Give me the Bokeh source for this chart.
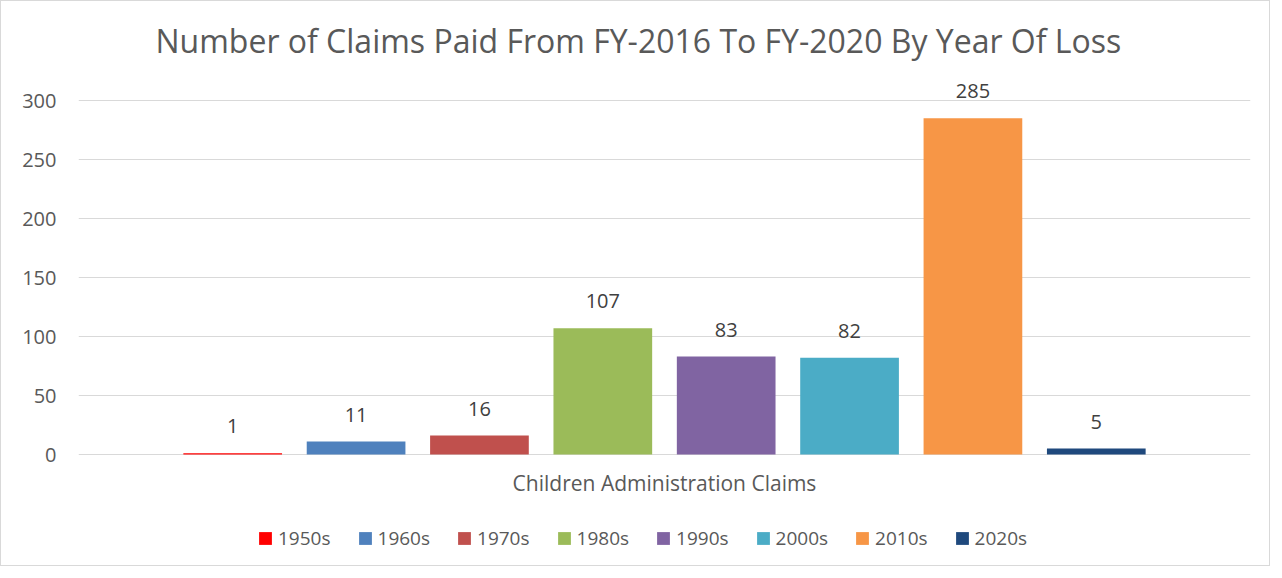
from bokeh.plotting import figure
from bokeh.models import (ColumnDataSource, Range1d, FixedTicker, Legend, LegendItem,
                          LabelSet, Label, Title)
from bokeh.core.properties import value
from bokeh.embed import file_html
from bokeh.resources import INLINE

decades = ["1950s", "1960s", "1970s", "1980s", "1990s", "2000s", "2010s", "2020s"]
claims = [1, 11, 16, 107, 83, 82, 285, 5]
colors = ["#ff0000", "#4f81bd", "#c0504d", "#9bbb59", "#8064a2", "#4bacc6", "#f79646", "#1f497d"]
category = "Children Administration Claims"
title_text = "Number of Claims Paid From FY-2016 To FY-2020 By Year Of Loss"
y_ticks = [0, 50, 100, 150, 200, 250, 300]

FONT = "Open Sans"
GRAY = "#595959"

src = ColumnDataSource(dict(x=list(range(len(decades))), top=claims,
                            label=[str(v) for v in claims]))

PX_PER_UNIT = 354 / 300.0
p = figure(width=1270, height=566, output_backend="svg", toolbar_location=None,
           x_range=Range1d(-1.25, 8.25),
           y_range=Range1d(-105 / PX_PER_UNIT, 300 + 29 / PX_PER_UNIT),
           min_border_left=77, min_border_right=21, min_border_top=70, min_border_bottom=8)
p.styles = {"border": "1px solid #d9d9d9"}
p.outline_line_color = None
p.background_fill_color = "white"
p.border_fill_color = "white"

p.title = Title(text=title_text, align="left", text_font=FONT, text_font_size="32px",
                text_color=GRAY, text_font_style="normal", standoff=20, offset=77)

renderers = []
for i in range(len(decades)):
    one = ColumnDataSource(dict(x=[src.data["x"][i]], top=[claims[i]]))
    r = p.vbar(x="x", top="top", bottom=0, width=0.8, source=one,
               color=colors[i], line_color=None)
    renderers.append(r)

labels = LabelSet(x="x", y="top", text="label", source=src, text_align="center",
                  text_baseline="middle", y_offset=27, text_font=value(FONT),
                  text_font_size="20px", text_color="#404040")
p.add_layout(labels)

cat_label = Label(x=3.5, y=0, text=category, text_align="center", text_baseline="middle",
                  y_offset=-28, text_font=FONT, text_font_size="21px", text_color=GRAY)
p.add_layout(cat_label)

p.ygrid.grid_line_color = "#d9d9d9"
p.ygrid.grid_line_width = 1
p.ygrid.ticker = FixedTicker(ticks=y_ticks)
p.xgrid.visible = False
p.xaxis.visible = False

p.yaxis.ticker = FixedTicker(ticks=y_ticks)
p.yaxis.axis_line_color = None
p.yaxis.major_tick_line_color = None
p.yaxis.minor_tick_line_color = None
p.yaxis.major_tick_out = 0
p.yaxis.major_label_text_font = FONT
p.yaxis.major_label_text_font_size = "20px"
p.yaxis.major_label_text_color = GRAY
p.yaxis.major_label_standoff = 22

items = [LegendItem(label=d, renderers=[r]) for d, r in zip(decades, renderers)]
legend = Legend(items=items, orientation="horizontal", location=(179, 8),
                glyph_width=16, glyph_height=16, label_standoff=5, spacing=26,
                label_text_font=FONT, label_text_font_size="19px", label_text_color=GRAY,
                border_line_color=None, background_fill_alpha=0, padding=0, margin=0,
                label_height=13)
p.add_layout(legend, "center")

open("out.html", "w").write(file_html(p, INLINE))
